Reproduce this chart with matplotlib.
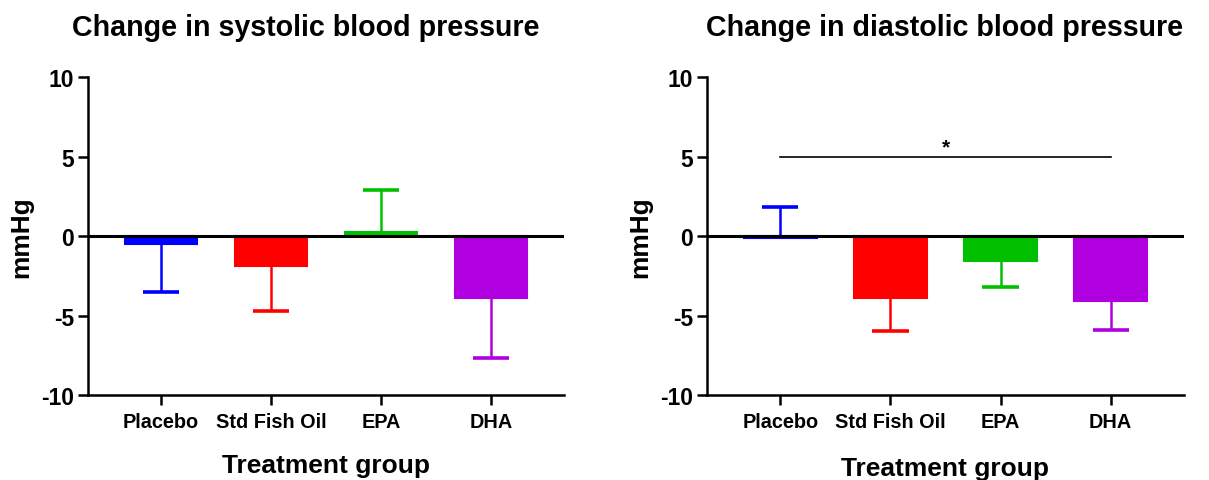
import matplotlib
matplotlib.use("Agg")
import matplotlib.pyplot as plt
import numpy as np

plt.rcParams['font.family'] = ['Liberation Sans', 'DejaVu Sans']
plt.rcParams['font.weight'] = 'bold'

groups = ["Placebo", "Std Fish Oil", "EPA", "DHA"]
colors = ["#0000ff", "#ff0000", "#00c000", "#b000e0"]

# mean change and one-sided error (sign gives the direction the bar extends)
systolic_mean = [-0.5, -1.9, 0.25, -3.9]
systolic_err = [-3.05, -2.8, 2.65, -3.8]

diastolic_mean = [-0.15, -3.9, -1.6, -4.1]
diastolic_err = [1.95, -2.1, -1.6, -1.8]

titles = ["Change in systolic blood pressure", "Change in diastolic blood pressure"]
title_x = [0.458, 0.497]
yticks = [-10, -5, 0, 5, 10]

fig = plt.figure(figsize=(12.09, 4.81), dpi=100)
ax1 = fig.add_axes([0.0728, 0.1767, 0.3937, 0.6611])
ax2 = fig.add_axes([0.5848, 0.1767, 0.3945, 0.6611])

BAR_W = 0.66
CAP_HALF = 0.165


def draw_panel(ax, means, errs, title, tx, xlabel_pad):
    x = np.arange(len(groups))
    ax.bar(x, means, width=BAR_W, color=colors, edgecolor=colors,
           linewidth=1.5, zorder=2)
    for xi, m, e, c in zip(x, means, errs, colors):
        tip = m + e
        ax.vlines(xi, m, tip, color=c, linewidth=1.8, zorder=2)
        ax.hlines(tip, xi - CAP_HALF, xi + CAP_HALF, color=c, linewidth=2.6, zorder=2)
    ax.axhline(0, color='black', linewidth=2.2, zorder=3)
    ax.set_xlim(-0.665, 3.665)
    ax.set_ylim(-10, 10)
    ax.set_yticks(yticks)
    ax.set_yticklabels([str(v) for v in yticks], fontsize=16.5, fontweight='bold')
    ax.set_xticks(x)
    ax.set_xticklabels(groups, fontsize=14.3, fontweight='bold')
    for s in ['top', 'right']:
        ax.spines[s].set_visible(False)
    for s in ['left', 'bottom']:
        ax.spines[s].set_linewidth(1.8)
    ax.tick_params(axis='x', width=1.8, length=7, pad=5)
    ax.tick_params(axis='y', width=1.8, length=7, pad=3)
    ax.set_ylabel("mmHg", fontsize=18.9, fontweight='bold', labelpad=6)
    ax.set_xlabel("Treatment group", fontsize=19, fontweight='bold', labelpad=xlabel_pad)
    ax.set_title(title, fontsize=20.6, fontweight='bold', pad=30, x=tx)


draw_panel(ax1, systolic_mean, systolic_err, titles[0], title_x[0], 16)
draw_panel(ax2, diastolic_mean, diastolic_err, titles[1], title_x[1], 18)

# significance bracket between Placebo and DHA
ax2.plot([0, 3], [5, 5], color='black', linewidth=1.2, zorder=3)
ax2.text(1.5, 5.0, "*", ha='center', va='bottom', fontsize=15, fontweight='bold')

fig.savefig("out.png", dpi=100)
